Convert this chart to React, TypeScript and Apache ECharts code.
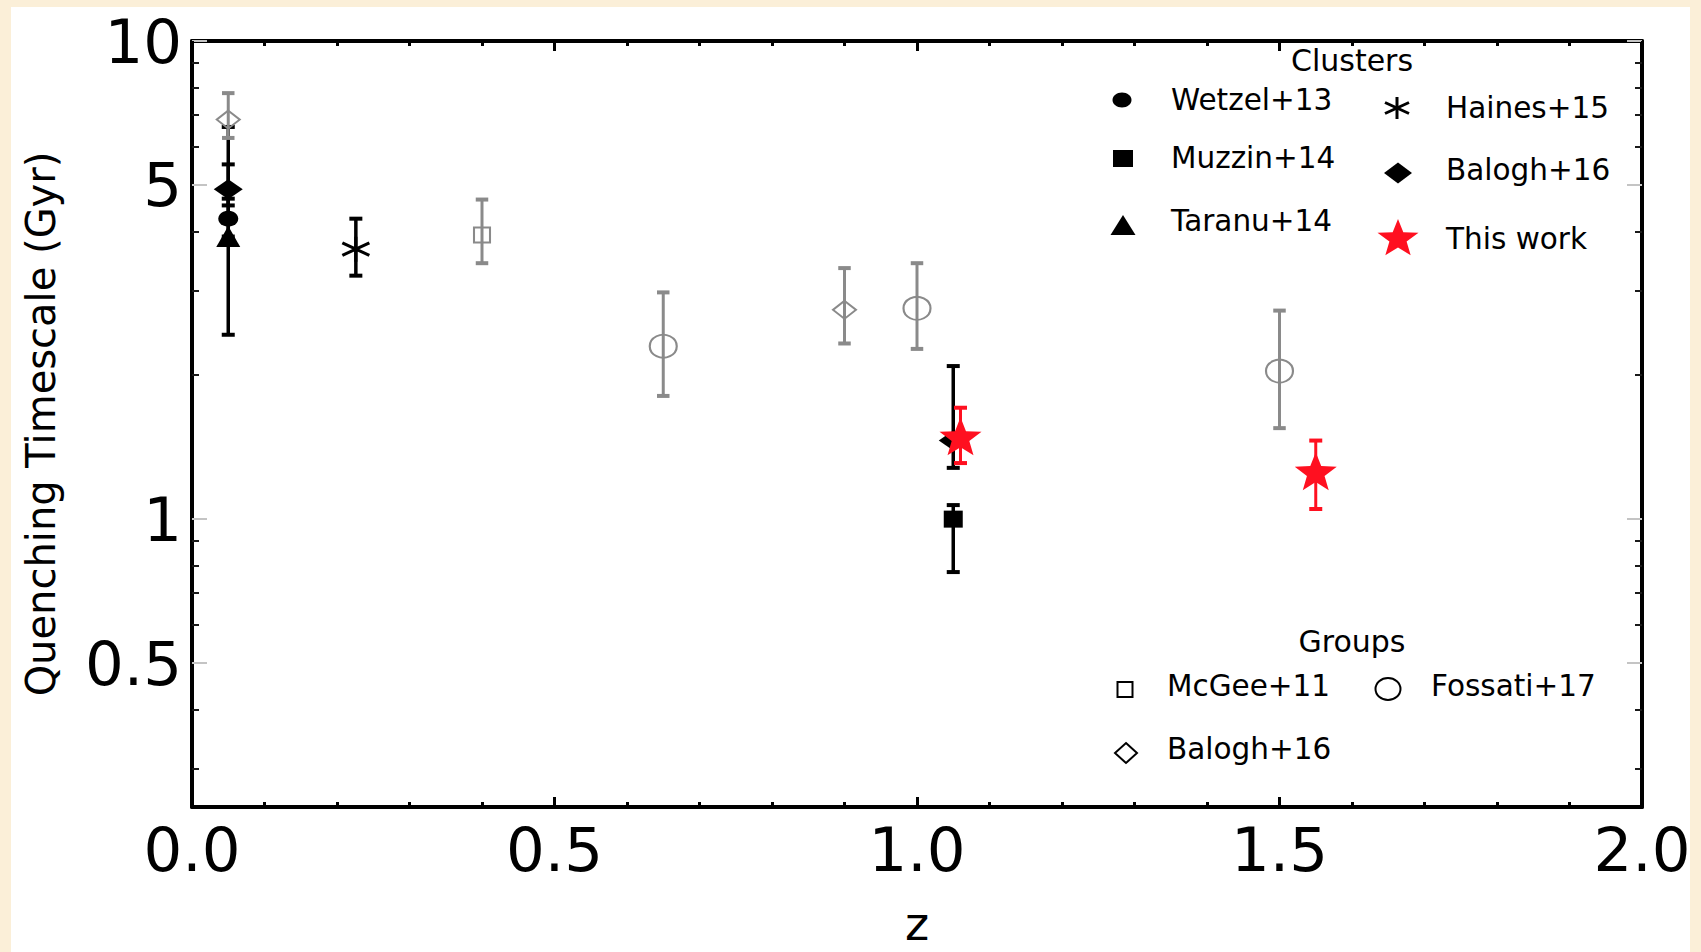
import React, { useEffect, useRef } from "react";
import * as echarts from "echarts";

const FONT = '"DejaVu Sans", "Liberation Sans", sans-serif';

// ---------- data (z, quenching timescale in Gyr) ----------
const wetzel13 = [[0.05, 4.25]];
const wetzel13Err = [[0.05, 3.9, 4.68]];
const muzzin14 = [[1.05, 1.0]];
const muzzin14Err = [[1.05, 0.775, 1.07]];
const taranu14 = [[0.05, 3.9]];
const taranu14Err = [[0.05, 2.43, 6.61]];
const haines15 = [[0.226, 3.67]];
const haines15Err = [[0.226, 3.23, 4.25]];
const balogh16Clusters = [[0.05, 4.9], [1.05, 1.46]];
const balogh16ClustersErr = [[0.05, 4.53, 5.52], [1.05, 1.28, 2.09]];
const thisWork = [[1.06, 1.49], [1.55, 1.26]];
const thisWorkErr = [[1.06, 1.31, 1.71], [1.55, 1.05, 1.46]];
const mcgee11 = [[0.4, 3.93]];
const mcgee11Err = [[0.4, 3.43, 4.66]];
const balogh16Groups = [[0.05, 6.85], [0.9, 2.74]];
const balogh16GroupsErr = [[0.05, 6.27, 7.78], [0.9, 2.33, 3.35]];
const fossati17 = [[0.65, 2.3], [1.0, 2.76], [1.5, 2.04]];
const fossati17Err = [[0.65, 1.81, 2.98], [1.0, 2.27, 3.43], [1.5, 1.55, 2.73]];

const yLabelValues = [0.5, 1, 5, 10];
const yMinorTickValues = [0.3, 0.4, 0.6, 0.7, 0.8, 0.9, 2, 3, 4, 6, 7, 8, 9];

const clusterLegend = ["Wetzel+13", "Muzzin+14", "Taranu+14", "Haines+15", "Balogh+16", "This work"];
const groupLegend = ["McGee+11", "Fossati+17", "Balogh+16"];

// ---------- styles ----------
const BLACK = "#000000";
const GRAY = "#8a8a8a";
const RED = "#ff1020";

const STAR_PTS = [
  [0, -100], [24.7, -34], [95.1, -30.9], [39.9, 13], [58.8, 80.9],
  [0, 42], [-58.8, 80.9], [-39.9, 13], [-95.1, -30.9], [-24.7, -34],
];
const starPath =
  "path://" + STAR_PTS.map((p, i) => (i === 0 ? "M" : "L") + p[0] + "," + p[1]).join("") + "Z";
const asteriskPath = "path://M0,-12L0,12M-10.4,-6L10.4,6M-10.4,6L10.4,-6";

function errSeries(name: string, data: number[][], color: string, lw: number, capW: number, z: number) {
  return {
    type: "custom",
    name,
    data,
    encode: { x: 0, y: [1, 2] },
    silent: true,
    z,
    renderItem: (params: any, api: any) => {
      const x = api.value(0);
      const lo = api.coord([x, api.value(1)]);
      const hi = api.coord([x, api.value(2)]);
      const h = capW / 2;
      return {
        type: "group",
        children: [
          { type: "line", shape: { x1: lo[0], y1: lo[1], x2: hi[0], y2: hi[1] }, style: { stroke: color, lineWidth: lw } },
          { type: "line", shape: { x1: lo[0] - h, y1: lo[1], x2: lo[0] + h, y2: lo[1] }, style: { stroke: color, lineWidth: 4 } },
          { type: "line", shape: { x1: hi[0] - h, y1: hi[1], x2: hi[0] + h, y2: hi[1] }, style: { stroke: color, lineWidth: 4 } },
        ],
      };
    },
  };
}

function scat(name: string, data: number[][], symbol: string, size: number[], itemStyle: any, z: number) {
  return {
    type: "scatter",
    name,
    data,
    symbol,
    symbolSize: size,
    itemStyle: { opacity: 1, ...itemStyle },
    silent: true,
    z,
    symbolKeepAspect: false,
  };
}

// legend helpers (graphic)
function lText(text: string, x: number, y: number, align = "left", size = 29.5) {
  return { type: "text", x, y, z: 100, style: { text, fontFamily: FONT, fontSize: size, fill: BLACK, align, verticalAlign: "middle" } };
}
function poly(points: number[][], style: any) {
  return { type: "polygon", z: 100, shape: { points }, style };
}

function buildLegend() {
  const g: any[] = [];
  g.push(lText("Clusters", 1352, 60, "center", 30));
  // col 1
  g.push({ type: "ellipse", z: 100, shape: { cx: 1122, cy: 100, rx: 9.5, ry: 7.5 }, style: { fill: BLACK } });
  g.push(lText(clusterLegend[0], 1171, 100));
  g.push({ type: "rect", z: 100, shape: { x: 1113, y: 150, width: 20, height: 17 }, style: { fill: BLACK } });
  g.push(lText(clusterLegend[1], 1171, 158));
  g.push(poly([[1123, 215], [1135.5, 235], [1110.5, 235]], { fill: BLACK }));
  g.push(lText(clusterLegend[2], 1171, 221));
  // col 2
  const ax = 1397, ay = 108;
  const ast = { stroke: BLACK, lineWidth: 3 };
  g.push({ type: "line", z: 100, shape: { x1: ax, y1: ay - 11, x2: ax, y2: ay + 11 }, style: ast });
  g.push({ type: "line", z: 100, shape: { x1: ax - 12, y1: ay - 5.5, x2: ax + 12, y2: ay + 5.5 }, style: ast });
  g.push({ type: "line", z: 100, shape: { x1: ax - 12, y1: ay + 5.5, x2: ax + 12, y2: ay - 5.5 }, style: ast });
  g.push(lText(clusterLegend[3], 1446, 107.5));
  g.push(poly([[1398, 162.5], [1412, 173], [1398, 183.5], [1384, 173]], { fill: BLACK }));
  g.push(lText(clusterLegend[4], 1446, 170));
  g.push(poly(STAR_PTS.map((p) => [1398 + (p[0] * 20.5) / 95.1, 239 + (p[1] * 20) / 100]), { fill: RED }));
  g.push(lText(clusterLegend[5], 1446, 239));
  // groups
  g.push(lText("Groups", 1352, 641, "center", 30));
  g.push({ type: "rect", z: 100, shape: { x: 1117.5, y: 682, width: 15, height: 15 }, style: { fill: "none", stroke: BLACK, lineWidth: 2 } });
  g.push(lText(groupLegend[0], 1167, 686));
  g.push({ type: "ellipse", z: 100, shape: { cx: 1388, cy: 689, rx: 12.5, ry: 11 }, style: { fill: "none", stroke: BLACK, lineWidth: 2 } });
  g.push(lText(groupLegend[1], 1431, 686));
  g.push(poly([[1126, 743], [1137, 753], [1126, 763], [1115, 753]], { fill: "none", stroke: BLACK, lineWidth: 2 }));
  g.push(lText(groupLegend[2], 1167, 749));
  return g;
}

export default function App() {
  const ref = useRef<HTMLDivElement>(null);

  useEffect(() => {
    if (!ref.current) return;
    const chart = echarts.init(ref.current, undefined, { renderer: "svg" });

    const yBase = {
      type: "log",
      logBase: 10,
      min: 0.25,
      max: 10,
      splitLine: { show: false },
      minorTick: { show: false },
    };
    const majorTick = { show: true, inside: true, length: 15, lineStyle: { color: "#c4c4c4", width: 2 }, customValues: yLabelValues };
    const minorTickY = { show: true, inside: true, length: 7, lineStyle: { color: "#1a1a1a", width: 2 }, customValues: yMinorTickValues };
    const frameLine = { show: true, lineStyle: { color: BLACK, width: 4 } };

    const xBase = {
      type: "value",
      min: 0,
      max: 2,
      interval: 0.5,
      splitLine: { show: false },
      axisLine: frameLine,
      axisTick: { show: true, inside: true, length: 10, lineStyle: { color: BLACK, width: 3 } },
      minorTick: { show: true, splitNumber: 5, length: 5, lineStyle: { color: BLACK, width: 3 } },
    };

    const option: any = {
      animation: false,
      backgroundColor: "transparent",
      grid: { left: 192, top: 41, width: 1450, height: 775, containLabel: false },
      xAxis: [
        {
          ...xBase,
          position: "bottom",
          name: "z",
          nameLocation: "middle",
          nameGap: 94,
          nameTextStyle: { fontFamily: FONT, fontSize: 46, color: BLACK },
          axisLabel: { show: true, margin: 12, fontFamily: FONT, fontSize: 61, color: BLACK, formatter: (v: number) => v.toFixed(1) },
        },
        { ...xBase, position: "top", axisLabel: { show: false } },
      ],
      yAxis: [
        {
          ...yBase,
          position: "left",
          axisLine: frameLine,
          axisTick: majorTick,
          axisLabel: {
            show: true,
            customValues: yLabelValues,
            margin: 10,
            fontFamily: FONT,
            fontSize: 61,
            color: BLACK,
            formatter: (v: number) => String(v),
          },
          name: "Quenching Timescale (Gyr)",
          nameLocation: "middle",
          nameGap: 131,
          nameTextStyle: { fontFamily: FONT, fontSize: 40, color: BLACK },
        },
        { ...yBase, position: "left", axisLine: { show: false }, axisTick: minorTickY, axisLabel: { show: false } },
        { ...yBase, position: "right", axisLine: frameLine, axisTick: majorTick, axisLabel: { show: false } },
        { ...yBase, position: "right", axisLine: { show: false }, axisTick: minorTickY, axisLabel: { show: false } },
      ],
      series: [
        // clusters (black)
        errSeries("Taranu+14 err", taranu14Err, BLACK, 3.5, 13, 2),
        errSeries("Wetzel+13 err", wetzel13Err, BLACK, 3.5, 13, 2),
        errSeries("Balogh+16 clusters err", balogh16ClustersErr, BLACK, 3.5, 13, 2),
        errSeries("Haines+15 err", haines15Err, BLACK, 3.5, 13, 2),
        errSeries("Muzzin+14 err", muzzin14Err, BLACK, 3.5, 13, 2),
        scat("Wetzel+13", wetzel13, "circle", [20, 16], { color: BLACK }, 3),
        scat("Taranu+14", taranu14, "triangle", [24, 21], { color: BLACK }, 3),
        scat("Balogh+16 clusters", balogh16Clusters, "diamond", [29, 20], { color: BLACK }, 3),
        scat("Muzzin+14", muzzin14, "rect", [19, 17], { color: BLACK }, 3),
        scat("Haines+15", haines15, asteriskPath, [27, 25], { color: BLACK, borderColor: BLACK, borderWidth: 3 }, 3),
        // groups (gray, open)
        errSeries("McGee+11 err", mcgee11Err, GRAY, 3, 12.5, 4),
        errSeries("Balogh+16 groups err", balogh16GroupsErr, GRAY, 3, 12.5, 4),
        errSeries("Fossati+17 err", fossati17Err, GRAY, 3, 12.5, 4),
        scat("McGee+11", mcgee11, "rect", [16, 15], { color: "transparent", borderColor: GRAY, borderWidth: 2 }, 5),
        scat("Balogh+16 groups", balogh16Groups, "diamond", [23, 18], { color: "transparent", borderColor: GRAY, borderWidth: 2 }, 5),
        scat("Fossati+17", fossati17, "circle", [27, 23], { color: "transparent", borderColor: GRAY, borderWidth: 2 }, 5),
        // this work (red)
        errSeries("This work err", thisWorkErr, RED, 3, 13, 6),
        scat("This work", thisWork, starPath, [42, 38], { color: RED }, 7),
      ],
      graphic: buildLegend(),
    };

    chart.setOption(option);
    return () => chart.dispose();
  }, []);

  return (
    <div style={{ position: "fixed", left: 0, top: 0, width: 1701, height: 952, background: "#fbefd8", overflow: "hidden" }}>
      <div style={{ position: "absolute", left: 11, top: 7, width: 1679, height: 945, background: "#ffffff" }} />
      <div ref={ref} style={{ position: "absolute", left: 0, top: 0, width: 1701, height: 952 }} />
    </div>
  );
}
